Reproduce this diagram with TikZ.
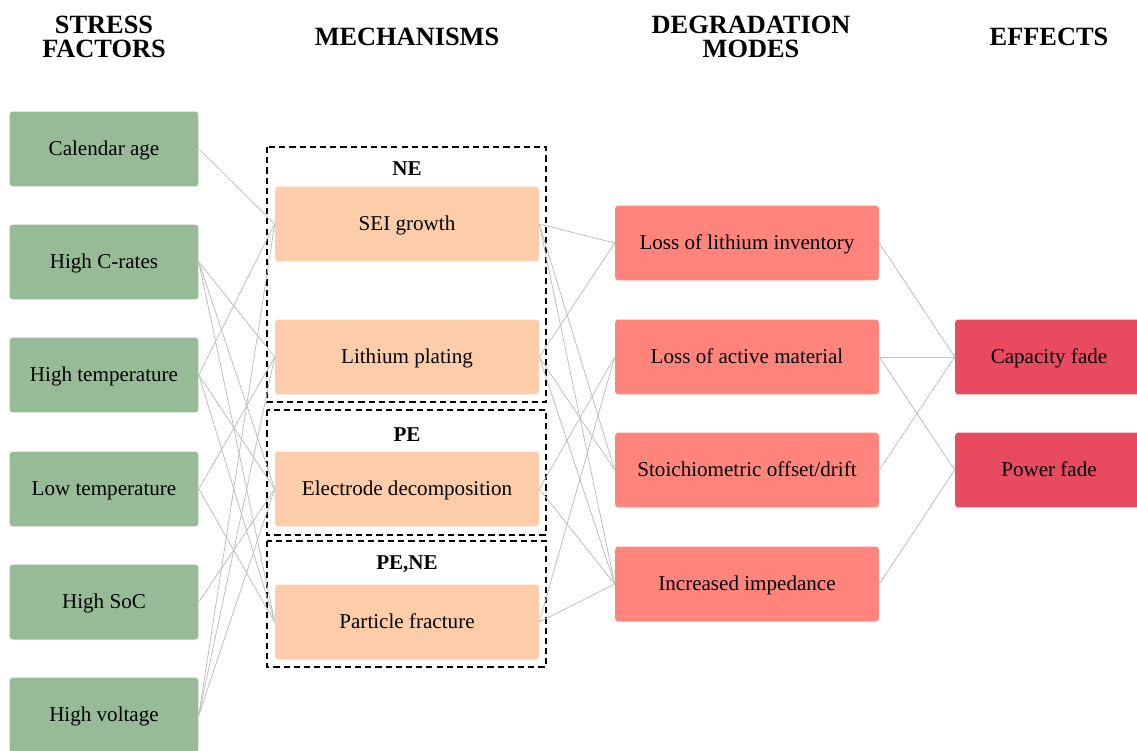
\documentclass[tikz,border=0pt]{standalone}
\usepackage{fontspec}
\setmainfont{Liberation Serif}
\definecolor{stresscol}{RGB}{152,187,151}
\definecolor{mechcol}{RGB}{253,205,170}
\definecolor{modecol}{RGB}{255,133,124}
\definecolor{effectcol}{RGB}{232,74,95}
\definecolor{linkcol}{RGB}{190,190,190}
\begin{document}
\begin{tikzpicture}[x=0.02cm,y=-0.02cm,
    box/.style={rounded corners=2pt,minimum height=1.5cm,inner sep=0pt,text depth=0.5pt,font=\fontsize{12}{14}\selectfont},
    stressbox/.style={box,fill=stresscol,minimum width=3.78cm},
    mechbox/.style={box,fill=mechcol,minimum width=5.28cm},
    modebox/.style={box,fill=modecol,minimum width=5.28cm},
    effectbox/.style={box,fill=effectcol,minimum width=3.76cm},
    head/.style={font=\fontsize{15}{13.6}\selectfont\bfseries,align=center},
    grouplabel/.style={font=\fontsize{12}{14}\selectfont\bfseries},
    group/.style={draw,line width=1pt,dash pattern=on 3.5pt off 2.3pt},
    link/.style={draw=linkcol,line width=0.45pt}]
    \useasboundingbox (0,0) rectangle (1137,751);
    % headers
    \node[head] (hstress) at (104,37) {STRESS\\FACTORS};
    \node[head] (hmech) at (407,37) {MECHANISMS};
    \node[head] (hmode) at (751,37) {DEGRADATION\\MODES};
    \node[head] (heff) at (1049,37) {EFFECTS};
    % stress factors
    \node[stressbox] (cal) at (104,149) {Calendar age};
    \node[stressbox] (crate) at (104,262) {High C-rates};
    \node[stressbox] (hight) at (104,375) {High temperature};
    \node[stressbox] (lowt) at (104,489) {Low temperature};
    \node[stressbox] (soc) at (104,602) {High SoC};
    \node[stressbox] (volt) at (104,715) {High voltage};
    % mechanisms
    \draw[group] (267,147) rectangle (546,402);
    \draw[group] (267,410) rectangle (546,535);
    \draw[group] (267,541) rectangle (546,667);
    \node[grouplabel] (gne) at (407,169) {NE};
    \node[grouplabel] (gpe) at (407,435) {PE};
    \node[grouplabel] (gpene) at (407,564) {PE,NE};
    \node[mechbox] (sei) at (407,224) {SEI growth};
    \node[mechbox] (plat) at (407,357) {Lithium plating};
    \node[mechbox] (deco) at (407,489) {Electrode decomposition};
    \node[mechbox] (frac) at (407,622) {Particle fracture};
    % degradation modes
    \node[modebox] (lli) at (747,243) {Loss of lithium inventory};
    \node[modebox] (lam) at (747,357) {Loss of active material};
    \node[modebox] (stoich) at (747,470) {Stoichiometric offset/drift};
    \node[modebox] (imp) at (747,584) {Increased impedance};
    % effects
    \node[effectbox] (cap) at (1049,357) {Capacity fade};
    \node[effectbox] (pow) at (1049,470) {Power fade};
    % links
    \foreach \a/\b in {cal/sei,crate/plat,crate/deco,crate/frac,hight/sei,hight/deco,hight/frac,
        lowt/plat,lowt/frac,soc/deco,volt/sei,volt/plat,volt/deco,
        sei/lli,sei/stoich,sei/imp,plat/lli,plat/stoich,plat/imp,deco/lam,deco/imp,frac/lam,frac/imp,
        lli/cap,lam/cap,lam/pow,stoich/cap,imp/pow}
        \draw[link] (\a.east) -- (\b.west);
\end{tikzpicture}
\end{document}
